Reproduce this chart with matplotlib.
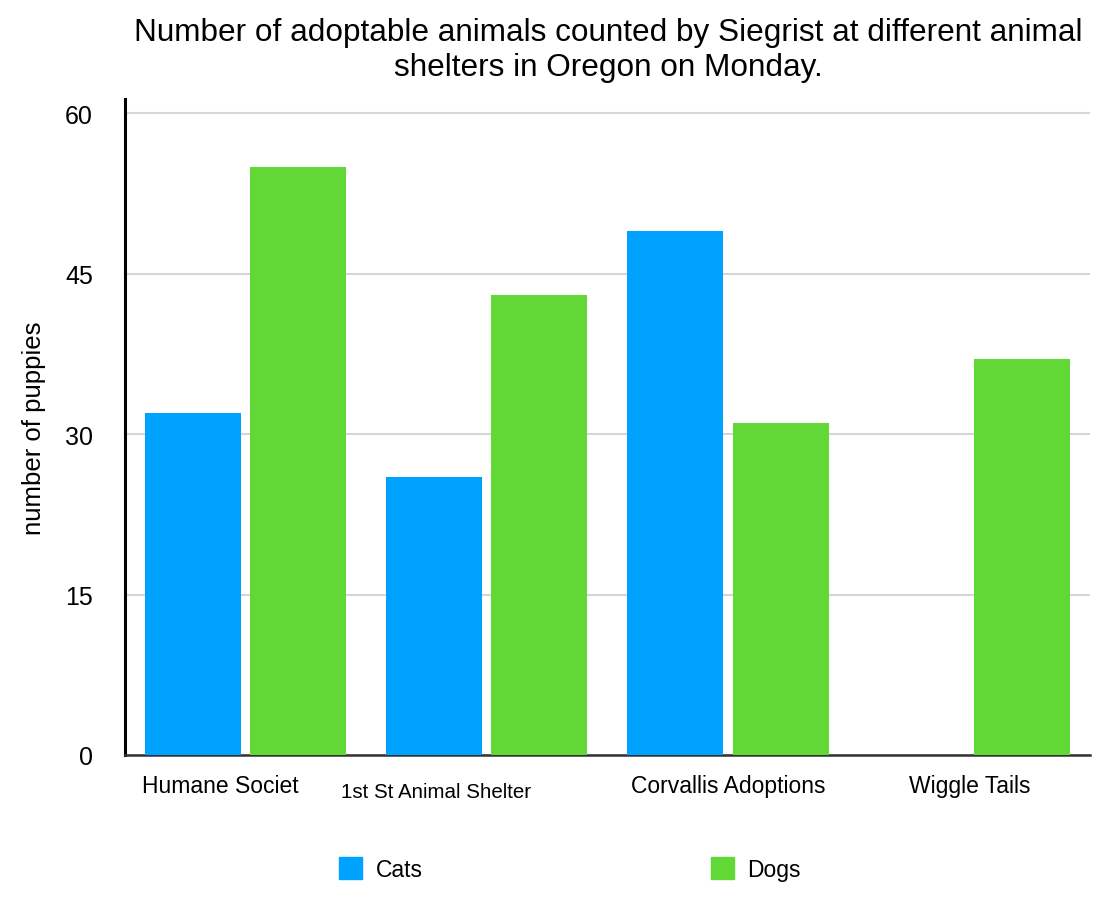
import numpy as np
import matplotlib
matplotlib.use("Agg")
import matplotlib.pyplot as plt
from matplotlib.patches import Patch
from matplotlib.transforms import ScaledTranslation

# === Data ===
shelters = ['Humane Societ', '1st St Animal Shelter', 'Corvallis Adoptions', 'Wiggle Tails']
cats = [32, 26, 49, 0]
dogs = [55, 43, 31, 37]
y_ticks = [0, 15, 30, 45, 60]

CAT_COLOR = '#00A2FF'
DOG_COLOR = '#61D836'

plt.rcParams['font.family'] = ['Liberation Sans', 'DejaVu Sans']

fig = plt.figure(figsize=(11.06, 9.03), dpi=100)
ax = fig.add_axes([0.113, 0.1628, 0.8725, 0.7262])

x = np.arange(len(shelters))
w = 0.398
ax.bar(x - 0.22, cats, width=w, color=CAT_COLOR, zorder=3)
ax.bar(x + 0.218, dogs, width=w, color=DOG_COLOR, zorder=3)

ax.set_xlim(-0.5, 3.5)
ax.set_ylim(0, 61.3)
ax.set_yticks(y_ticks)
ax.set_yticklabels([str(t) for t in y_ticks], fontsize=18)
ax.yaxis.grid(True, color='#d6d6d6', linewidth=1.5, zorder=0)
ax.set_axisbelow(True)
ax.tick_params(axis='y', length=0, pad=23)
ax.tick_params(axis='x', length=0, pad=14)

ax.set_xticks(x)
ax.set_xticklabels(shelters, fontsize=16.5)
# labels in the original are nudged: first two sit left of their groups,
# the second one is smaller and a bit lower
shifts_px = [(-25, 0), (-51, -8), (0, 0), (0, 0)]
for lbl, (dx, dy) in zip(ax.get_xticklabels(), shifts_px):
    lbl.set_transform(lbl.get_transform() + ScaledTranslation(dx / 100, dy / 100, fig.dpi_scale_trans))
ax.get_xticklabels()[1].set_fontsize(14.8)

for side in ['top', 'right']:
    ax.spines[side].set_visible(False)
ax.spines['left'].set_linewidth(2.2)
ax.spines['left'].set_color('black')
ax.spines['bottom'].set_linewidth(1.8)
ax.spines['bottom'].set_color('#333333')

ax.set_ylabel('number of puppies', fontsize=18.5, labelpad=14)

fig.text(0.55, 1 - 18 / 903,
         'Number of adoptable animals counted by Siegrist at different animal\nshelters in Oregon on Monday.',
         ha='center', va='top', fontsize=22.7, linespacing=1.2)

handles = [Patch(color=CAT_COLOR, label='Cats'), Patch(color=DOG_COLOR, label='Dogs')]
fig.legend(handles=handles, loc='center', bbox_to_anchor=(570 / 1106, 1 - 870 / 903), ncol=2,
           frameon=False, fontsize=16.5, handlelength=1.0, handleheight=1.1,
           handletextpad=0.57, columnspacing=12.6)

fig.savefig('out.png', dpi=100)
